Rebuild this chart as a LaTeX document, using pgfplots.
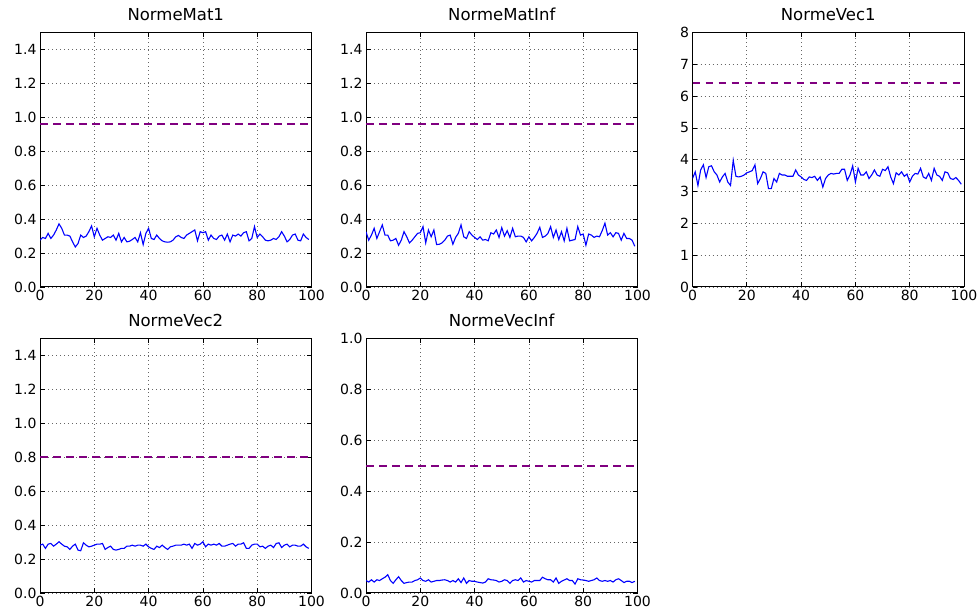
\documentclass[border=0pt]{standalone}
\usepackage{pgfplots}
\pgfplotsset{compat=1.18}
\usepackage{pgfplotstable}
\usepackage{fontspec}
\setmainfont{DejaVu Sans}
\definecolor{mplblue}{RGB}{0,0,255}
\definecolor{mplpurple}{RGB}{128,0,128}

\pgfplotstableread{
y
0.276
0.292
0.286
0.316
0.286
0.306
0.336
0.372
0.346
0.306
0.306
0.300
0.266
0.236
0.256
0.306
0.292
0.300
0.326
0.360
0.296
0.346
0.306
0.276
0.286
0.296
0.292
0.306
0.276
0.316
0.266
0.292
0.266
0.270
0.280
0.292
0.266
0.320
0.250
0.316
0.346
0.286
0.280
0.306
0.286
0.272
0.266
0.264
0.266
0.276
0.296
0.304
0.292
0.286
0.306
0.316
0.326
0.336
0.272
0.326
0.320
0.326
0.276
0.306
0.286
0.280
0.300
0.306
0.276
0.312
0.266
0.306
0.300
0.312
0.300
0.320
0.326
0.272
0.286
0.356
0.292
0.312
0.296
0.276
0.272
0.276
0.286
0.280
0.296
0.326
0.300
0.266
0.280
0.306
0.312
0.276
0.272
0.312
0.292
0.280
}\matone

\pgfplotstableread{
y
0.326
0.276
0.306
0.346
0.286
0.326
0.366
0.306
0.306
0.272
0.276
0.286
0.246
0.276
0.326
0.296
0.260
0.276
0.296
0.316
0.320
0.356
0.260
0.336
0.296
0.336
0.250
0.252
0.260
0.276
0.300
0.306
0.252
0.292
0.316
0.366
0.296
0.286
0.326
0.306
0.292
0.280
0.296
0.276
0.280
0.272
0.320
0.312
0.336
0.292
0.350
0.300
0.332
0.292
0.346
0.296
0.300
0.300
0.292
0.266
0.296
0.272
0.292
0.316
0.352
0.292
0.300
0.316
0.356
0.292
0.336
0.280
0.326
0.272
0.346
0.272
0.276
0.280
0.356
0.306
0.312
0.246
0.312
0.306
0.292
0.300
0.296
0.332
0.376
0.306
0.320
0.296
0.320
0.316
0.276
0.316
0.286
0.286
0.276
0.240
}\matinf

\pgfplotstableread{
y
3.41
3.62
3.19
3.68
3.84
3.44
3.78
3.81
3.62
3.52
3.30
3.46
3.57
3.30
3.19
3.98
3.48
3.46
3.48
3.52
3.59
3.62
3.66
3.84
3.25
3.41
3.62
3.57
3.09
3.09
3.41
3.30
3.57
3.52
3.52
3.48
3.48
3.48
3.68
3.52
3.46
3.38
3.35
3.46
3.44
3.48
3.35
3.46
3.14
3.41
3.52
3.57
3.55
3.57
3.57
3.70
3.70
3.35
3.52
3.81
3.30
3.73
3.52
3.52
3.62
3.41
3.52
3.68
3.52
3.48
3.70
3.66
3.78
3.46
3.25
3.59
3.52
3.62
3.48
3.55
3.30
3.48
3.57
3.55
3.73
3.46
3.41
3.57
3.35
3.73
3.52
3.48
3.35
3.62
3.59
3.41
3.38
3.44
3.35
3.23
}\vecone

\pgfplotstableread{
y
0.282
0.288
0.263
0.288
0.292
0.276
0.288
0.302
0.288
0.276
0.272
0.257
0.276
0.288
0.253
0.249
0.296
0.282
0.272
0.276
0.282
0.288
0.288
0.292
0.257
0.268
0.276
0.257
0.253
0.257
0.263
0.263
0.276
0.276
0.282
0.276
0.282
0.282
0.276
0.288
0.272
0.263
0.257
0.276
0.268
0.282
0.268
0.257
0.272
0.276
0.282
0.282
0.282
0.288
0.282
0.288
0.263
0.292
0.282
0.288
0.302
0.272
0.288
0.282
0.288
0.282
0.292
0.276
0.276
0.282
0.288
0.292
0.276
0.288
0.288
0.296
0.263
0.263
0.282
0.288
0.288
0.272
0.276
0.263
0.276
0.282
0.268
0.292
0.296
0.268
0.282
0.288
0.272
0.282
0.282
0.276
0.276
0.288
0.272
0.263
}\vectwo

\pgfplotstableread{
y
0.049
0.043
0.052
0.043
0.052
0.049
0.056
0.062
0.072
0.049
0.038
0.052
0.064
0.049
0.038
0.041
0.043
0.043
0.049
0.052
0.059
0.049
0.046
0.052
0.043
0.046
0.049
0.049
0.051
0.052
0.049
0.043
0.049
0.043
0.056
0.041
0.059
0.038
0.049
0.046
0.046
0.043
0.041
0.039
0.043
0.056
0.052
0.051
0.049
0.043
0.046
0.052
0.049
0.038
0.049
0.052
0.049
0.059
0.043
0.049
0.046
0.043
0.049
0.049
0.049
0.062
0.056
0.052
0.052
0.043
0.059
0.038
0.046
0.051
0.056
0.049
0.049
0.035
0.056
0.052
0.051
0.049
0.046
0.049
0.052
0.059
0.049
0.046
0.049
0.046
0.049
0.043
0.052
0.056
0.049
0.041
0.046
0.046
0.041
0.046
}\vecinf

\pgfplotsset{
  mplaxis/.style={
    scale only axis,
    width=271.5pt, height=254.5pt,
    xmin=0, xmax=100,
    xtick={0,20,40,60,80,100},
    tick pos=both,
    tick align=inside,
    major tick length=4.5pt,
    every tick/.style={black, line width=0.8pt},
    axis line style={black, line width=1pt},
    grid=major,
    major grid style={black!60, line width=0.7pt, dash pattern=on 1pt off 3pt},
    /pgf/number format/assume math mode=true,
    tick label style={font=\fontsize{14}{16}\selectfont},
    xticklabel style={/pgf/number format/fixed, /pgf/number format/precision=0},
    title style={at={(0.5,1)}, anchor=base, yshift=6.2pt, font=\fontsize{16.5}{19}\selectfont},
    clip=true,
  },
  dec1/.style={
    yticklabel style={/pgf/number format/fixed, /pgf/number format/fixed zerofill, /pgf/number format/precision=1},
  },
  blueline/.style={color=mplblue, line width=1.1pt, mark=none},
  purpledash/.style={color=mplpurple, line width=1.6pt, dash pattern=on 7.5pt off 5.5pt, mark=none},
}

\begin{document}
\begin{tikzpicture}
\useasboundingbox (0pt,0pt) rectangle (979pt,610pt);

\begin{axis}[mplaxis, dec1, at={(40pt,323pt)}, anchor=south west,
  ymin=0, ymax=1.5, ytick={0,0.2,0.4,0.6,0.8,1.0,1.2,1.4},
  title={NormeMat1}]
  \addplot[blueline] table[x expr=\coordindex, y=y] {\matone};
  \addplot[purpledash] coordinates {(0,0.96) (100,0.96)};
\end{axis}

\begin{axis}[mplaxis, dec1, at={(366pt,323pt)}, anchor=south west,
  ymin=0, ymax=1.5, ytick={0,0.2,0.4,0.6,0.8,1.0,1.2,1.4},
  title={NormeMatInf}]
  \addplot[blueline] table[x expr=\coordindex, y=y] {\matinf};
  \addplot[purpledash] coordinates {(0,0.96) (100,0.96)};
\end{axis}

\begin{axis}[mplaxis, at={(692.5pt,323pt)}, anchor=south west,
  ymin=0, ymax=8, ytick={0,1,2,3,4,5,6,7,8},
  yticklabel style={/pgf/number format/fixed, /pgf/number format/precision=0},
  title={NormeVec1}]
  \addplot[blueline] table[x expr=\coordindex, y=y] {\vecone};
  \addplot[purpledash] coordinates {(0,6.42) (100,6.42)};
\end{axis}

\begin{axis}[mplaxis, dec1, at={(40pt,17pt)}, anchor=south west,
  ymin=0, ymax=1.5, ytick={0,0.2,0.4,0.6,0.8,1.0,1.2,1.4},
  title={NormeVec2}]
  \addplot[blueline] table[x expr=\coordindex, y=y] {\vectwo};
  \addplot[purpledash] coordinates {(0,0.8) (100,0.8)};
\end{axis}

\begin{axis}[mplaxis, dec1, at={(366pt,17pt)}, anchor=south west,
  ymin=0, ymax=1.0, ytick={0,0.2,0.4,0.6,0.8,1.0},
  title={NormeVecInf}]
  \addplot[blueline] table[x expr=\coordindex, y=y] {\vecinf};
  \addplot[purpledash] coordinates {(0,0.5) (100,0.5)};
\end{axis}
\end{tikzpicture}
\end{document}
